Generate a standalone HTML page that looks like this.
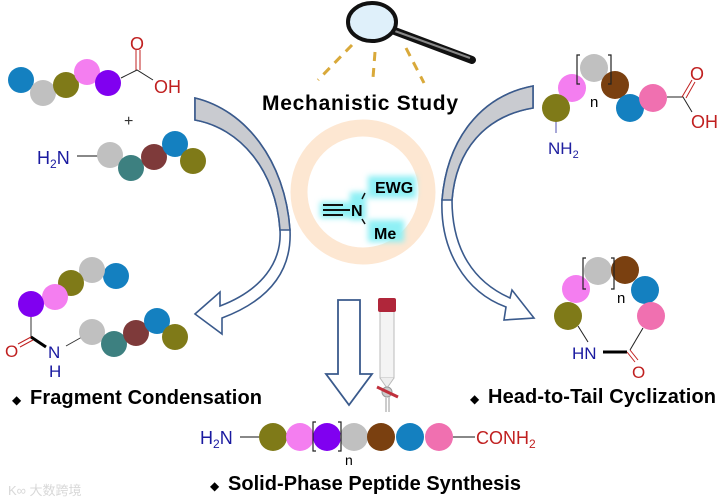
<!DOCTYPE html>
<html><head><meta charset="utf-8"><style>
html,body{margin:0;padding:0;background:#fff;}
svg{display:block;font-family:"Liberation Sans",Arial,sans-serif;}
</style></head><body>
<svg width="726" height="503" viewBox="0 0 726 503" xmlns="http://www.w3.org/2000/svg">
<defs>
<filter id="glow" x="-50%" y="-50%" width="200%" height="200%"><feGaussianBlur stdDeviation="3"/></filter>
</defs>
<!-- Magnifier -->
<line x1="392" y1="30" x2="472" y2="60" stroke="#111" stroke-width="8" stroke-linecap="round"/>
<line x1="392" y1="30" x2="470" y2="58" stroke="#888" stroke-width="2"/>
<ellipse cx="372" cy="22" rx="24" ry="19" fill="#dff0fa" stroke="#111" stroke-width="4"/>
<g stroke="#d9a93a" stroke-width="3" stroke-dasharray="9,7">
<line x1="352" y1="45" x2="318" y2="80"/>
<line x1="375" y1="52" x2="373" y2="78"/>
<line x1="406" y1="48" x2="424" y2="83"/>
</g>
<text x="360" y="110" font-size="21" font-weight="bold" text-anchor="middle" textLength="196">Mechanistic Study</text>
<!-- Center ring -->
<circle cx="363" cy="192" r="64" fill="none" stroke="#fde7d2" stroke-width="17"/>
<g filter="url(#glow)" fill="#8ff0f5">
<rect x="320" y="202" width="32" height="16"/><rect x="350" y="192" width="16" height="28"/><rect x="368" y="176" width="48" height="22"/><rect x="368" y="220" width="36" height="22"/>
</g>
<g stroke="#111" stroke-width="2">
<line x1="323" y1="205" x2="343" y2="205"/><line x1="323" y1="210" x2="350" y2="210"/><line x1="323" y1="215" x2="343" y2="215"/>
</g>
<text x="351" y="216" font-size="16" font-weight="bold">N</text>
<line x1="362" y1="199" x2="365" y2="193" stroke="#111" stroke-width="1.5"/>
<line x1="362" y1="219" x2="365" y2="224" stroke="#111" stroke-width="1.5"/>
<text x="375" y="193" font-size="16" font-weight="bold">EWG</text>
<text x="374" y="239" font-size="16" font-weight="bold">Me</text>
<!-- left curved arrow -->
<path d="M195,98 C245,110 285,160 290,230 C292,270 270,300 222,318 L222,334 L195,314 L220,292 L220,306 C262,290 282,262 280,230 C276,170 240,128 195,120 Z" fill="#fff" stroke="#3a5a8c" stroke-width="1.6"/>
<path d="M195,98 C245,110 285,160 290,230 L280,230 C276,170 240,128 195,120 Z" fill="#c9cbd0" stroke="#3a5a8c" stroke-width="1.6"/>
<!-- right curved arrow -->
<path d="M533,86 C480,96 447,140 442,200 C440,250 465,292 506,307 L504,320 L534,318 L512,290 L510,298 C474,282 452,250 452,200 C456,150 485,116 533,108 Z" fill="#fff" stroke="#3a5a8c" stroke-width="1.6"/>
<path d="M533,86 C480,96 447,140 442,200 L452,200 C456,150 485,116 533,108 Z" fill="#c9cbd0" stroke="#3a5a8c" stroke-width="1.6"/>
<!-- down arrow -->
<path d="M338,300 L360,300 L360,374 L372,374 L349,405 L326,374 L338,374 Z" fill="#fff" stroke="#3a5a8c" stroke-width="1.8"/>
<!-- column -->
<rect x="380" y="310" width="14" height="68" fill="#f4f4f4" stroke="#bbb"/>
<rect x="378" y="298" width="18" height="14" rx="2" fill="#b0263a"/>
<path d="M380,378 L387,388 L394,378" fill="#eee" stroke="#bbb"/>
<circle cx="387" cy="392" r="5" fill="#ccc" stroke="#999"/>
<line x1="377" y1="387" x2="398" y2="397" stroke="#c0303c" stroke-width="3"/>
<line x1="386" y1="397" x2="386" y2="412" stroke="#ccc" stroke-width="2"/>
<line x1="389" y1="397" x2="389" y2="412" stroke="#ccc" stroke-width="2"/>

<!-- top-left chain -->
<circle cx="21" cy="80" r="13" fill="#1480c0"/>
<circle cx="43" cy="93" r="13" fill="#c0c0c0"/>
<circle cx="66" cy="85" r="13" fill="#7f7a18"/>
<circle cx="87" cy="72" r="13" fill="#f47ef0"/>
<circle cx="108" cy="83" r="13" fill="#8000f0"/>
<path d="M121,78 L137,70 L153,80" fill="none" stroke="#222" stroke-width="1"/>
<line x1="136" y1="70" x2="136" y2="50" stroke="#c02020"/><line x1="140" y1="70" x2="140" y2="50" stroke="#c02020"/>
<text x="130" y="50" font-size="18" fill="#c02020">O</text>
<text x="154" y="93" font-size="18" fill="#c02020">OH</text>
<text x="124" y="126" font-size="16" fill="#333">+</text>
<text x="37" y="164" font-size="18" fill="#1a1aa0">H<tspan font-size="12" dy="4">2</tspan><tspan dy="-4">N</tspan></text>
<line x1="77" y1="156" x2="98" y2="156" stroke="#111"/>
<circle cx="110" cy="155" r="13" fill="#c0c0c0"/>
<circle cx="131" cy="168" r="13" fill="#3d8080"/>
<circle cx="154" cy="157" r="13" fill="#7e3a3a"/>
<circle cx="175" cy="144" r="13" fill="#1480c0"/>
<circle cx="193" cy="161" r="13" fill="#7f7a18"/>

<!-- top-right chain -->
<line x1="556" y1="118" x2="556" y2="133" stroke="#5050b0"/>
<circle cx="572" cy="88" r="14" fill="#f47ef0"/>
<circle cx="556" cy="108" r="14" fill="#7f7a18"/>
<circle cx="594" cy="68" r="14" fill="#c0c0c0"/>
<circle cx="615" cy="85" r="14" fill="#7a4010"/>
<circle cx="630" cy="108" r="14" fill="#1480c0"/>
<circle cx="653" cy="98" r="14" fill="#f070b0"/>
<path d="M580,55 L577,55 L577,84 L580,84 M608,55 L611,55 L611,84 L608,84" fill="none" stroke="#222" stroke-width="1.2"/>
<text x="590" y="107" font-size="15">n</text>
<text x="548" y="154" font-size="17" fill="#2020a0">NH<tspan font-size="11" dy="4">2</tspan></text>
<path d="M667,97 L683,97 L692,112" fill="none" stroke="#222"/>
<line x1="682" y1="97" x2="692" y2="80" stroke="#c02020"/><line x1="686" y1="98" x2="695" y2="82" stroke="#c02020"/>
<text x="690" y="80" font-size="18" fill="#c02020">O</text>
<text x="691" y="128" font-size="18" fill="#c02020">OH</text>

<!-- bottom-left -->
<circle cx="116" cy="276" r="13" fill="#1480c0"/>
<circle cx="92" cy="270" r="13" fill="#c0c0c0"/>
<circle cx="71" cy="283" r="13" fill="#7f7a18"/>
<circle cx="55" cy="297" r="13" fill="#f47ef0"/>
<circle cx="31" cy="304" r="13" fill="#8000f0"/>
<line x1="31" y1="317" x2="31" y2="337" stroke="#333"/>
<line x1="31" y1="337" x2="46" y2="347" stroke="#000" stroke-width="3"/>
<line x1="31" y1="337" x2="18" y2="344" stroke="#c02020"/><line x1="33" y1="340" x2="20" y2="347" stroke="#c02020"/>
<text x="5" y="357" font-size="17" fill="#c02020">O</text>
<text x="48" y="358" font-size="17" fill="#1a1aa0">N</text>
<text x="49" y="377" font-size="17" fill="#1a1aa0">H</text>
<line x1="66" y1="346" x2="82" y2="337" stroke="#333"/>
<circle cx="92" cy="332" r="13" fill="#c0c0c0"/>
<circle cx="114" cy="344" r="13" fill="#3d8080"/>
<circle cx="136" cy="333" r="13" fill="#7e3a3a"/>
<circle cx="157" cy="321" r="13" fill="#1480c0"/>
<circle cx="175" cy="337" r="13" fill="#7f7a18"/>
<text x="12" y="404" font-size="12">◆</text>
<text x="30" y="404" font-size="20" font-weight="bold" textLength="232">Fragment Condensation</text>

<!-- bottom-right ring -->
<line x1="578" y1="326" x2="588" y2="342" stroke="#222"/>
<line x1="643" y1="328" x2="630" y2="350" stroke="#222"/>
<circle cx="576" cy="289" r="14" fill="#f47ef0"/>
<circle cx="568" cy="316" r="14" fill="#7f7a18"/>
<circle cx="598" cy="271" r="14" fill="#c0c0c0"/>
<circle cx="625" cy="270" r="14" fill="#7a4010"/>
<circle cx="645" cy="290" r="14" fill="#1480c0"/>
<circle cx="651" cy="316" r="14" fill="#f070b0"/>
<path d="M586,258 L583,258 L583,289 L586,289 M611,258 L614,258 L614,289 L611,289" fill="none" stroke="#222" stroke-width="1.2"/>
<text x="617" y="303" font-size="15">n</text>
<text x="572" y="359" font-size="17" fill="#1a1aa0">HN</text>
<line x1="603" y1="352" x2="627" y2="352" stroke="#000" stroke-width="3"/>
<line x1="627" y1="352" x2="635" y2="362" stroke="#c02020"/><line x1="630" y1="350" x2="638" y2="360" stroke="#c02020"/>
<text x="632" y="378" font-size="17" fill="#c02020">O</text>
<text x="470" y="403" font-size="12">◆</text>
<text x="488" y="403" font-size="20" font-weight="bold" textLength="228">Head-to-Tail Cyclization</text>

<!-- bottom chain -->
<text x="200" y="444" font-size="18" fill="#1a1aa0">H<tspan font-size="12" dy="4">2</tspan><tspan dy="-4">N</tspan></text>
<line x1="240" y1="437" x2="259" y2="437" stroke="#111"/>
<circle cx="273" cy="437" r="14" fill="#7f7a18"/>
<circle cx="300" cy="437" r="14" fill="#f47ef0"/>
<circle cx="327" cy="437" r="14" fill="#8000f0"/>
<circle cx="354" cy="437" r="14" fill="#c0c0c0"/>
<circle cx="381" cy="437" r="14" fill="#7a4010"/>
<circle cx="410" cy="437" r="14" fill="#1480c0"/>
<circle cx="439" cy="437" r="14" fill="#f070b0"/>
<path d="M316,422 L313,422 L313,451 L316,451 M338,422 L341,422 L341,451 L338,451" fill="none" stroke="#222" stroke-width="1.2"/>
<text x="345" y="465" font-size="14">n</text>
<line x1="453" y1="437" x2="475" y2="437" stroke="#111"/>
<text x="476" y="444" font-size="18" fill="#c02020">CONH<tspan font-size="12" dy="4">2</tspan></text>
<text x="210" y="490" font-size="12">◆</text>
<text x="228" y="490" font-size="20" font-weight="bold" textLength="293">Solid-Phase Peptide Synthesis</text>
<text x="8" y="495" font-size="13" fill="#d8d8d8" font-family="'Liberation Sans','Noto Sans CJK SC',sans-serif">K∞ 大数跨境</text>
</svg>
</body></html>
